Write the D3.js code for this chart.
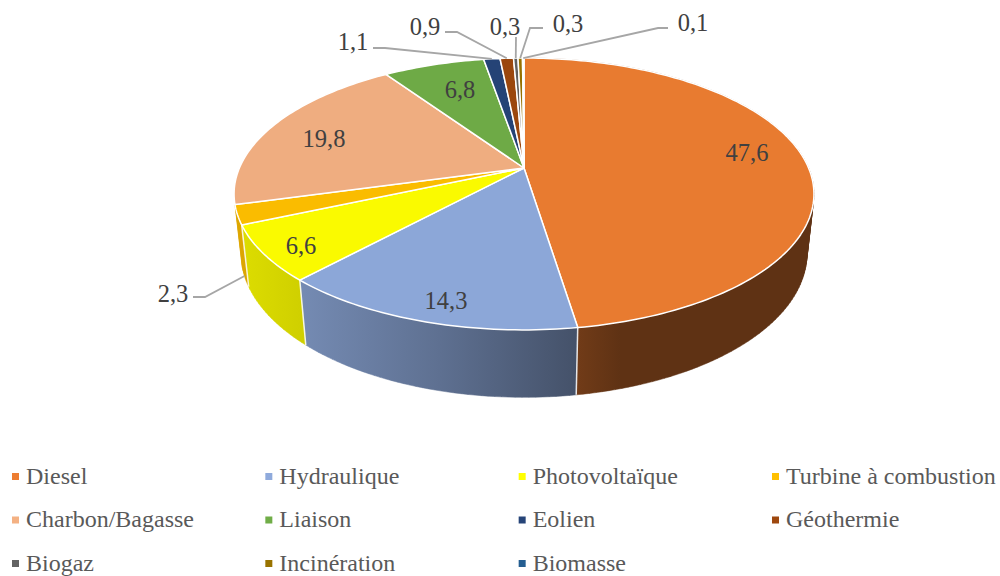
<!DOCTYPE html>
<html>
<head>
<meta charset="utf-8">
<script src="https://cdn.jsdelivr.net/npm/d3@7"></script>
<style>
  html, body { margin: 0; padding: 0; background: #fff; overflow: hidden; }
  text { font-family: "Liberation Serif", "Times New Roman", serif; }
</style>
</head>
<body>
<div id="chart"></div>
<script>
const width = 1000;
const height = 576;

const categories = ["Diesel", "Hydraulique", "Photovoltaïque", "Turbine à combustion", "Charbon/Bagasse", "Liaison", "Eolien", "Géothermie", "Biogaz", "Incinération", "Biomasse"];
const values = [47.6, 14.3, 6.6, 2.3, 19.8, 6.8, 1.1, 0.9, 0.3, 0.3, 0.1];
const colours = ["#ed7d31", "#8faadc", "#ffff00", "#ffc000", "#f4b183", "#70ad47", "#264478", "#9e480e", "#636363", "#997300", "#255e91"];

// label centres, and for the small slices the elbow of the leader line
const labelAt = [[747, 152], [446, 300], [301, 245], [173, 293], [324, 138], [460, 89], [353, 41], [425, 26], [505, 26], [568, 23], [693, 22]];
const leaderFrom = {3: [[193, 297], [205, 297]], 6: [[373, 48], [385, 48]], 7: [[445, 32], [457, 32]], 8: [[516, 37]], 9: [[543, 28], [530, 28]], 10: [[668, 28], [658, 28]]};

// brightness of the pie wall along x
const shadeX = [235, 305, 440, 575, 620, 814];
const shadeK = [0.87, 0.81, 0.66, 0.48, 0.40, 0.40];
const topShade = 0.98;

// only the first slices have a wall facing the viewer
const frontSlices = 4;

// perspective of the tilted disc, fitted to the picture
const persp = {cx: 524, cy: 168, d: 284.6, a: -98.9, c: 0.191, e: 0.0236, f: 63.9};

// angle clockwise from 12 o'clock, r 0..1 from the centre, z 0 top face, 1 bottom face
function project(angle, r = 1, z = 0) {
	const u = r * Math.sin(angle);
	const v = r * Math.cos(angle);
	const w = 1 + persp.c * v + persp.e * z;
	return [persp.cx + persp.d * u / w, (persp.a * v + persp.cy + persp.f * z) / w];
}

function rim(a0, a1, z) {
	const n = Math.max(2, Math.ceil((a1 - a0) / 0.02));
	return d3.range(n + 1).map(i => project(a0 + (a1 - a0) * i / n, 1, z));
}

// wall as a union of small quads, so the straight silhouette at both sides comes out right.
// polygonHull keeps the winding the same for all of them
function wallPath(s) {
	const t = rim(s.startAngle, s.endAngle, 0);
	const b = rim(s.startAngle, s.endAngle, 1);
	return d3.range(t.length - 1)
		.map(i => "M" + d3.polygonHull([t[i], t[i + 1], b[i + 1], b[i]]).join("L") + "Z")
		.join("");
}

function shaded(colour, k) {
	const c = d3.rgb(colour);
	return d3.rgb(c.r * k, c.g * k, c.b * k).formatHex();
}

const svg = d3.select("#chart").append("svg")
	.attr("width", width)
	.attr("height", height)
	.style("display", "block");

const slices = d3.pie().sort(null).value(d => d)(values);
const line = d3.line();

/// wall gradients ///
const defs = svg.append("defs");
slices.slice(0, frontSlices).forEach((s, i) => {
	const grad = defs.append("linearGradient")
		.attr("id", `wall-${i}`)
		.attr("gradientUnits", "userSpaceOnUse")
		.attr("x1", shadeX[0])
		.attr("x2", shadeX[shadeX.length - 1])
		.attr("y1", 0)
		.attr("y2", 0);
	shadeX.forEach((x, k) => {
		grad.append("stop")
			.attr("offset", (x - shadeX[0]) / (shadeX[shadeX.length - 1] - shadeX[0]))
			.attr("stop-color", shaded(colours[i], shadeK[k]));
	});
});

/// walls ///
const walls = svg.append("g");
walls.selectAll("path.wall")
	.data(slices.slice(0, frontSlices))
	.join("path")
	.attr("class", "wall")
	.attr("d", wallPath)
	.attr("fill", (s, i) => `url(#wall-${i})`)
	.attr("stroke", (s, i) => `url(#wall-${i})`)
	.attr("stroke-width", 0.5);

// white seams where two front slices meet
walls.selectAll("path.seam")
	.data(slices.slice(0, frontSlices - 1))
	.join("path")
	.attr("class", "seam")
	.attr("d", s => line([project(s.endAngle, 1, 0), project(s.endAngle, 1, 1)]))
	.attr("stroke", "#fff")
	.attr("stroke-opacity", 0.85)
	.attr("stroke-width", 1.5)
	.attr("fill", "none");

/// top face ///
svg.append("g").selectAll("path")
	.data(slices)
	.join("path")
	.attr("d", s => line([project(0, 0, 0)].concat(rim(s.startAngle, s.endAngle, 0))) + "Z")
	.attr("fill", (s, i) => shaded(colours[i], topShade))
	.attr("stroke", "#fff")
	.attr("stroke-width", 1.5)
	.attr("stroke-linejoin", "round");

/// leader lines ///
svg.append("g").selectAll("path")
	.data(Object.keys(leaderFrom).map(Number))
	.join("path")
	.attr("d", i => {
		const mid = (slices[i].startAngle + slices[i].endAngle) / 2;
		return line(leaderFrom[i].concat([project(mid, 1, i === 3 ? 1 : 0)]));
	})
	.attr("fill", "none")
	.attr("stroke", "#a6a6a6")
	.attr("stroke-width", 1.8);

/// value labels ///
svg.append("g").selectAll("text")
	.data(values)
	.join("text")
	.attr("x", (d, i) => labelAt[i][0])
	.attr("y", (d, i) => labelAt[i][1])
	.attr("dy", "0.35em")
	.attr("text-anchor", "middle")
	.attr("font-size", "24.5px")
	.attr("fill", "#404040")
	.text(d => String(d).replace(".", ","));

/// legend ///
const legendX = d3.scalePoint().domain(d3.range(4)).range([12, 772]);
const legendY = d3.scalePoint().domain(d3.range(3)).range([476.5, 563.5]);
const legend = svg.append("g").selectAll("g")
	.data(categories)
	.join("g")
	.attr("transform", (d, i) => `translate(${legendX(i % 4)},${legendY(Math.floor(i / 4))})`);

legend.append("rect")
	.attr("y", -3.5)
	.attr("width", 7)
	.attr("height", 7)
	.attr("fill", (d, i) => colours[i]);

legend.append("text")
	.attr("x", 14)
	.attr("dy", "0.3em")
	.attr("font-size", "24px")
	.attr("fill", "#595959")
	.text(d => d);
</script>
</body>
</html>
